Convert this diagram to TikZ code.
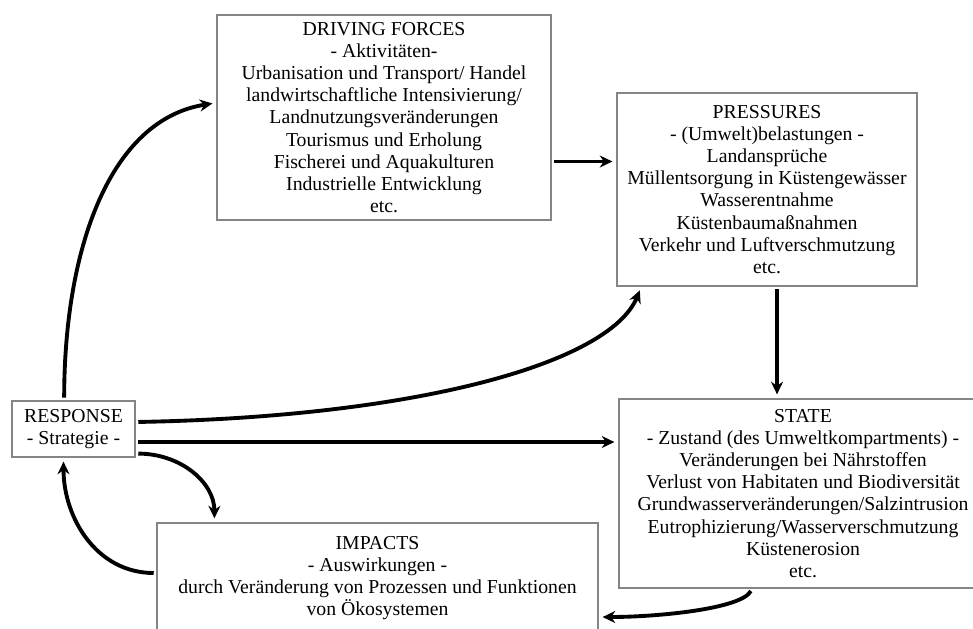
\documentclass[tikz,border=0pt]{standalone}
\usepackage{fontspec}
\setmainfont{Liberation Serif}
\usetikzlibrary{arrows.meta, calc}

\definecolor{boxgray}{HTML}{858585}

\tikzset{
   dpsir/.style={draw=boxgray, line width=0.9pt, align=center, inner sep=0pt,
      font=\fontsize{14.8}{16.6}\selectfont},
   flow/.style={-{Stealth[length=9.5pt, width=9pt]}, line width=2.9pt,
      shorten <=2pt, shorten >=3pt}
}

\begin{document}
\begin{tikzpicture}[x=0.75pt, y=-0.75pt]
      \useasboundingbox (0,0) rectangle (973,628);
      \clip (0,0) rectangle (973,628);
      % Boxes
      \node[dpsir, minimum width=250.5pt, minimum height=153.75pt] (driving) at (384,117.5)
         {DRIVING FORCES\\ - Aktivitäten-\\ Urbanisation und Transport/ Handel\\
          landwirtschaftliche Intensivierung/\\ Landnutzungsveränderungen\\
          Tourismus und Erholung\\ Fischerei und Aquakulturen\\
          Industrielle Entwicklung\\ etc.};
      \node[dpsir, minimum width=225pt, minimum height=144.75pt] (pressures) at (767,189.5)
         {PRESSURES\\ - (Umwelt)belastungen -\\ Landansprüche\\
          Müllentsorgung in Küstengewässer\\ Wasserentnahme\\
          Küstenbaumaßnahmen\\ Verkehr und Luftverschmutzung\\ etc.};
      \node[dpsir, minimum width=276pt, minimum height=141.75pt] (state) at (803,493.5)
         {STATE\\ - Zustand (des Umweltkompartments) -\\ Veränderungen bei Nährstoffen\\
          Verlust von Habitaten und Biodiversität\\ Grundwasserveränderungen/Salzintrusion\\
          Eutrophizierung/Wasserverschmutzung\\ Küstenerosion\\ etc.};
      \node[dpsir, minimum width=330.75pt, minimum height=82.5pt] (impacts) at (377.5,578)
         {IMPACTS\\ - Auswirkungen -\\ durch Veränderung von Prozessen und Funktionen\\
          von Ökosystemen};
      \node[dpsir, minimum width=92.25pt, minimum height=42pt] (response) at (73.5,429)
         {RESPONSE\\ - Strategie -};
      % Response -> Driving forces
      \draw[flow] ([xshift=-7pt]response.north) .. controls +(0,-151) and +(-107,17)
         .. ([yshift=11pt]driving.west);
      % Driving forces -> Pressures
      \draw[flow] ([yshift=-33pt]driving.east) -- ([yshift=-33pt]driving.east -| pressures.west);
      % Response -> Pressures
      \draw[flow] ([yshift=5.25pt]response.east) .. controls +(280,-5) and +(-32,77)
         .. ([xshift=18.75pt]pressures.south west);
      % Pressures -> State
      \draw[flow] ([xshift=7.5pt]pressures.south) -- ([xshift=7.5pt]pressures.south |- state.north);
      % Response -> State
      \draw[flow] ([yshift=-9.75pt]response.east) -- ([yshift=-9.75pt]response.east -| state.west);
      % Response -> Impacts
      \draw[flow] ([yshift=3pt]response.south east) .. controls +(45,0) and +(0,-40)
         .. ([xshift=43.5pt]impacts.north west);
      % Impacts -> Response
      \draw[flow] ([yshift=3.75pt]impacts.west) .. controls +(-60,0) and +(0,60)
         .. ([xshift=-7.5pt]response.south);
      % State -> Impacts
      \draw[flow] ([xshift=-38.25pt]state.south) .. controls +(-10,20) and +(60,0)
         .. ([yshift=-29.25pt]impacts.east);
   \end{tikzpicture}
\end{document}
